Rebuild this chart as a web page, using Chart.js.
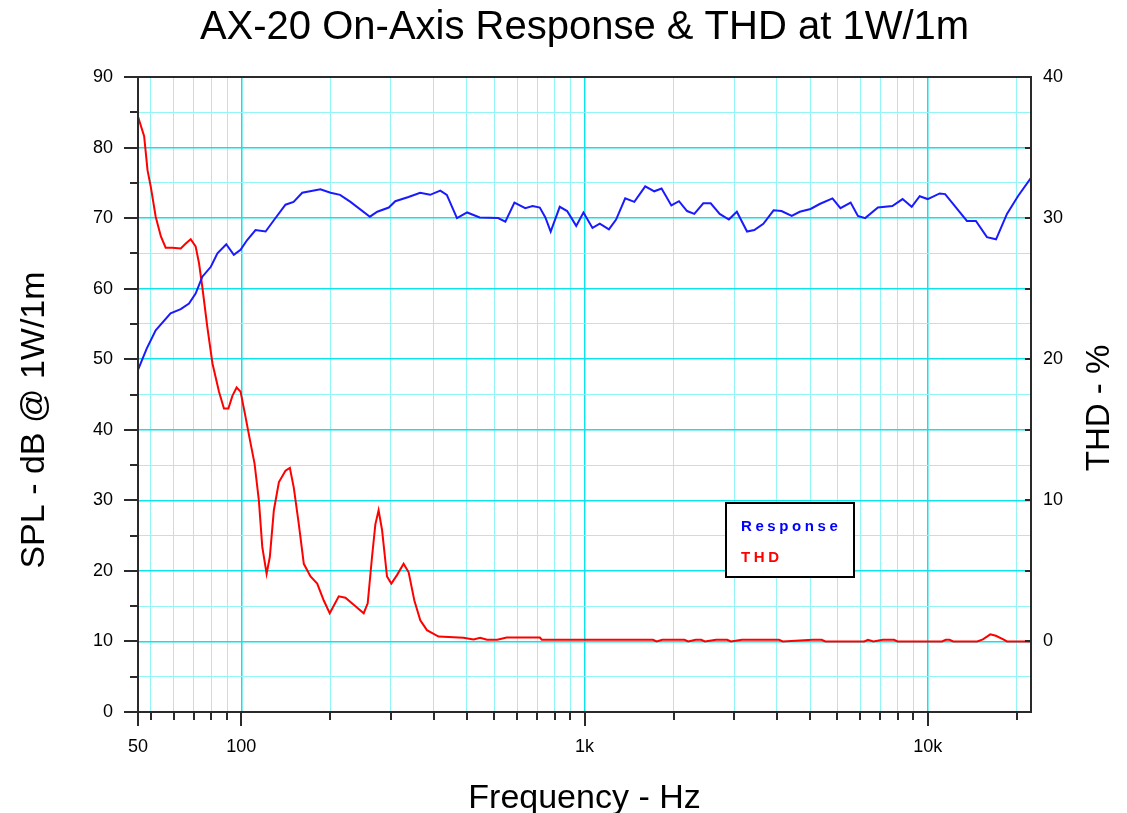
<!DOCTYPE html>
<html>
<head>
<meta charset="utf-8">
<script src="https://cdn.jsdelivr.net/npm/chart.js@4.4.1/dist/chart.umd.min.js"></script>
<style>
  html, body { margin: 0; padding: 0; background: #fff; }
  canvas { display: block; }
</style>
</head>
<body>
<canvas id="axChart" width="1127" height="813"></canvas>
<script>
// SPL response (blue, left axis)
const respFreq = [50, 53, 56.3, 62.2, 66.6, 70.4, 73.6, 77, 81.5, 85.2, 90.4, 95.1, 99.5, 104, 110, 117.7, 124.4, 134.5, 142, 150.5,
    170, 182, 194, 208, 237, 249, 269, 281, 307, 332, 355, 380, 397, 425, 455, 495, 560, 588, 625, 672,
    706, 741, 769, 797, 847, 890, 946, 993, 1055, 1108, 1178, 1236, 1314, 1397, 1503, 1597, 1677, 1791, 1885, 1990,
    2089, 2219, 2332, 2477, 2634, 2779, 2976, 3124, 3320, 3556, 3750, 4017, 4237, 4557, 4844, 5279, 5569, 5963, 6261, 6574,
    7161, 7888, 8449, 8982, 9478, 10000, 10840, 11240, 12100, 13010, 13820, 14880, 15820, 17020, 18320, 20000];
const respDb = [48.5, 51.5, 54.1, 56.5, 57.1, 57.9, 59.3, 61.7, 63.1, 65.0, 66.3, 64.8, 65.5, 66.9, 68.3, 68.1, 69.7, 71.9, 72.3, 73.6,
    74.1, 73.6, 73.3, 72.3, 70.2, 70.9, 71.5, 72.4, 73.0, 73.6, 73.3, 73.9, 73.3, 70.0, 70.8, 70.1, 70.0, 69.5, 72.2, 71.4,
    71.7, 71.5, 70.1, 68.1, 71.6, 71.0, 68.9, 70.8, 68.6, 69.2, 68.4, 69.8, 72.8, 72.3, 74.5, 73.8, 74.2, 71.8, 72.4, 71.0,
    70.6, 72.1, 72.1, 70.6, 69.8, 70.9, 68.1, 68.3, 69.2, 71.1, 71.0, 70.3, 70.9, 71.3, 72.0, 72.8, 71.4, 72.2, 70.3, 70.0,
    71.5, 71.7, 72.7, 71.6, 73.1, 72.7, 73.5, 73.4, 71.5, 69.6, 69.6, 67.3, 67.0, 70.6, 73.1, 75.7];

// THD (red, right axis)
const thdFreq = [50, 52.1, 53.3, 54.5, 56.3, 58.3, 60.2, 63, 66.6, 68.9, 71.2, 73.6, 75.3, 77, 79.6, 82.4, 86.1, 89, 91.7, 94.2,
    96.9, 99.5, 102.9, 105.9, 109.3, 112.5, 115.1, 118.5, 121.1, 124.4, 128.7, 134.5, 138.5, 142.2, 147.1, 152.1, 159.1, 166.4, 173.9, 181,
    192.3, 201.1, 212.6, 227.3, 233.5, 240.4, 245.8, 251.2, 257.1, 265.8, 273.6, 284.2, 297.1, 307.3, 319.3, 332.3, 347.5, 375.6, 444.1, 474.9,
    496.6, 520, 557, 593, 741, 751, 1583, 1623, 1685, 1956, 2005, 2108, 2188, 2243, 2417, 2604, 2670, 2875, 3687, 3782,
    4614, 4909, 5034, 6535, 6700, 6950, 7396, 7973, 8176, 11010, 11290, 11580, 11870, 13950, 14480, 15220, 15800, 16610, 17020, 20000];
const thdPct = [37.2, 35.8, 33.4, 32.2, 30.1, 28.7, 27.9, 27.9, 27.85, 28.2, 28.5, 28.0, 26.8, 25.1, 22.3, 19.7, 17.7, 16.5, 16.5, 17.4,
    18.0, 17.7, 15.9, 14.3, 12.6, 10.0, 6.7, 4.8, 6.0, 9.3, 11.3, 12.1, 12.3, 10.9, 8.3, 5.5, 4.6, 4.1, 2.9, 2.0,
    3.2, 3.1, 2.6, 2.0, 2.7, 6.0, 8.3, 9.3, 7.9, 4.6, 4.1, 4.7, 5.5, 4.9, 2.9, 1.5, 0.8, 0.35, 0.26, 0.14,
    0.26, 0.12, 0.12, 0.28, 0.28, 0.12, 0.12, 0.0, 0.12, 0.12, 0.0, 0.12, 0.12, 0.0, 0.12, 0.12, 0.0, 0.12, 0.12, 0.0,
    0.12, 0.12, 0.0, 0.0, 0.12, 0.0, 0.12, 0.12, 0.0, 0.0, 0.12, 0.12, 0.0, 0.0, 0.15, 0.5, 0.4, 0.15, 0.0, 0.0];

// x axis ticks (the minor ones sit at odd values in the original plot)
const xMajorTicks = [50, 100, 1000, 10000];
const xTickLabels = ['50', '100', '1k', '10k'];
const xMinorTicks = [54.55, 63.64, 72.73, 81.82, 90.91,
    181.8, 272.7, 363.6, 454.5, 545.5, 636.4, 727.3, 818.2, 909.1,
    1818, 2727, 3636, 4545, 5455, 6364, 7273, 8182, 9091,
    18182];

const gridMajor = '#0fe2e8';
const gridMinor = '#93f6f6';

Chart.defaults.font.family = '"Liberation Sans", Arial, sans-serif';
Chart.defaults.color = '#000';

const decorPlugin = {
    id: 'decor',
    afterDatasetsDraw(chart) {
        const { ctx, chartArea: a, scales } = chart;
        ctx.save();
        ctx.strokeStyle = '#2a2a2a';
        ctx.lineWidth = 2;
        ctx.strokeRect(a.left, a.top, a.right - a.left, a.bottom - a.top);

        ctx.beginPath();
        scales.x.ticks.forEach(t => {
            const px = Math.round(scales.x.getPixelForValue(t.value));
            const len = xMajorTicks.includes(t.value) ? 14 : 8;
            ctx.moveTo(px, a.bottom);
            ctx.lineTo(px, a.bottom + len);
        });
        scales.y.ticks.forEach(t => {
            const py = Math.round(scales.y.getPixelForValue(t.value));
            const len = t.value % 10 === 0 ? 14 : 8;
            ctx.moveTo(a.left, py);
            ctx.lineTo(a.left - len, py);
        });
        scales.y2.ticks.forEach(t => {
            if (t.value <= -5 || t.value >= 40) return;
            const py = Math.round(scales.y2.getPixelForValue(t.value));
            ctx.moveTo(a.right, py);
            ctx.lineTo(a.right - 6, py);
        });
        ctx.stroke();

        // legend box
        const lx = a.left + 588, ly = a.top + 426;
        ctx.fillStyle = '#fff';
        ctx.fillRect(lx, ly, 128, 74);
        ctx.strokeStyle = '#000';
        ctx.lineWidth = 2;
        ctx.strokeRect(lx, ly, 128, 74);
        ctx.font = 'bold 15px "Liberation Sans", Arial, sans-serif';
        ctx.letterSpacing = '3.6px';
        ctx.textAlign = 'left';
        ctx.textBaseline = 'middle';
        ctx.fillStyle = '#0000ff';
        ctx.fillText('Response', lx + 15, ly + 24);
        ctx.fillStyle = '#ff0000';
        ctx.fillText('THD', lx + 15, ly + 55);
        ctx.letterSpacing = '0px';

        // side titles
        ctx.fillStyle = '#000';
        ctx.textAlign = 'center';
        ctx.font = '34px "Liberation Sans", Arial, sans-serif';
        ctx.translate(35, 420);
        ctx.rotate(-Math.PI / 2);
        ctx.fillText('SPL - dB @ 1W/1m', 0, 0);
        ctx.setTransform(1, 0, 0, 1, 0, 0);
        ctx.font = '33px "Liberation Sans", Arial, sans-serif';
        ctx.translate(1100, 408);
        ctx.rotate(-Math.PI / 2);
        ctx.fillText('THD - %', 0, 0);
        ctx.restore();
    }
};

const ctx = document.getElementById('axChart').getContext('2d');
const axChart = new Chart(ctx, {
    type: 'line',
    data: {
        datasets: [
            {
                label: 'Response',
                data: respFreq.map((f, i) => ({ x: f, y: respDb[i] })),
                yAxisID: 'y',
                borderColor: '#1a1aff',
                borderWidth: 2,
                pointRadius: 0,
                tension: 0,
                fill: false,
            },
            {
                label: 'THD',
                data: thdFreq.map((f, i) => ({ x: f, y: thdPct[i] })),
                yAxisID: 'y2',
                borderColor: '#ff0000',
                borderWidth: 2,
                pointRadius: 0,
                tension: 0,
                fill: false,
            }
        ]
    },
    options: {
        responsive: false,
        animation: false,
        events: [],
        plugins: {
            legend: { display: false },
            tooltip: { enabled: false },
            title: {
                display: true,
                fullSize: false,
                text: 'AX-20 On-Axis Response & THD at 1W/1m',
                color: '#000',
                font: { size: 40, weight: 'normal', lineHeight: 1 },
                padding: { top: 8, bottom: 29 }
            }
        },
        scales: {
            x: {
                type: 'logarithmic',
                position: 'bottom',
                min: 50,
                max: 20000,
                afterBuildTicks: scale => {
                    scale.ticks = xMajorTicks.concat(xMinorTicks).sort((p, q) => p - q).map(v => ({ value: v }));
                },
                afterFit: scale => { scale.height = 101; },
                border: { display: false },
                grid: {
                    drawTicks: false,
                    color: c => xMajorTicks.includes(c.tick.value) ? gridMajor : gridMinor,
                    lineWidth: c => xMajorTicks.includes(c.tick.value) ? 1.5 : 1,
                },
                ticks: {
                    autoSkip: false,
                    maxRotation: 0,
                    padding: 24,
                    font: { size: 18 },
                    callback: v => {
                        const i = xMajorTicks.indexOf(v);
                        return i === -1 ? '' : xTickLabels[i];
                    }
                },
                title: {
                    display: true,
                    text: 'Frequency - Hz',
                    font: { size: 34, lineHeight: 0.85 },
                    padding: 0
                }
            },
            y: {
                position: 'left',
                min: 0,
                max: 90,
                afterFit: scale => { scale.width = 138; },
                border: { display: false },
                grid: {
                    drawTicks: false,
                    color: c => c.tick.value % 10 === 0 ? gridMajor : gridMinor,
                    lineWidth: c => c.tick.value % 10 === 0 ? 1.5 : 1,
                },
                ticks: {
                    stepSize: 5,
                    padding: 25,
                    font: { size: 18 },
                    callback: v => v % 10 === 0 ? String(v) : ''
                }
            },
            y2: {
                position: 'right',
                min: -5,
                max: 40,
                afterFit: scale => { scale.width = 96; },
                border: { display: false },
                grid: { display: false, drawTicks: false },
                ticks: {
                    stepSize: 5,
                    padding: 12,
                    font: { size: 18 },
                    callback: v => (v % 10 === 0) ? String(v) : ''
                }
            }
        }
    },
    plugins: [decorPlugin]
});
</script>
</body>
</html>
